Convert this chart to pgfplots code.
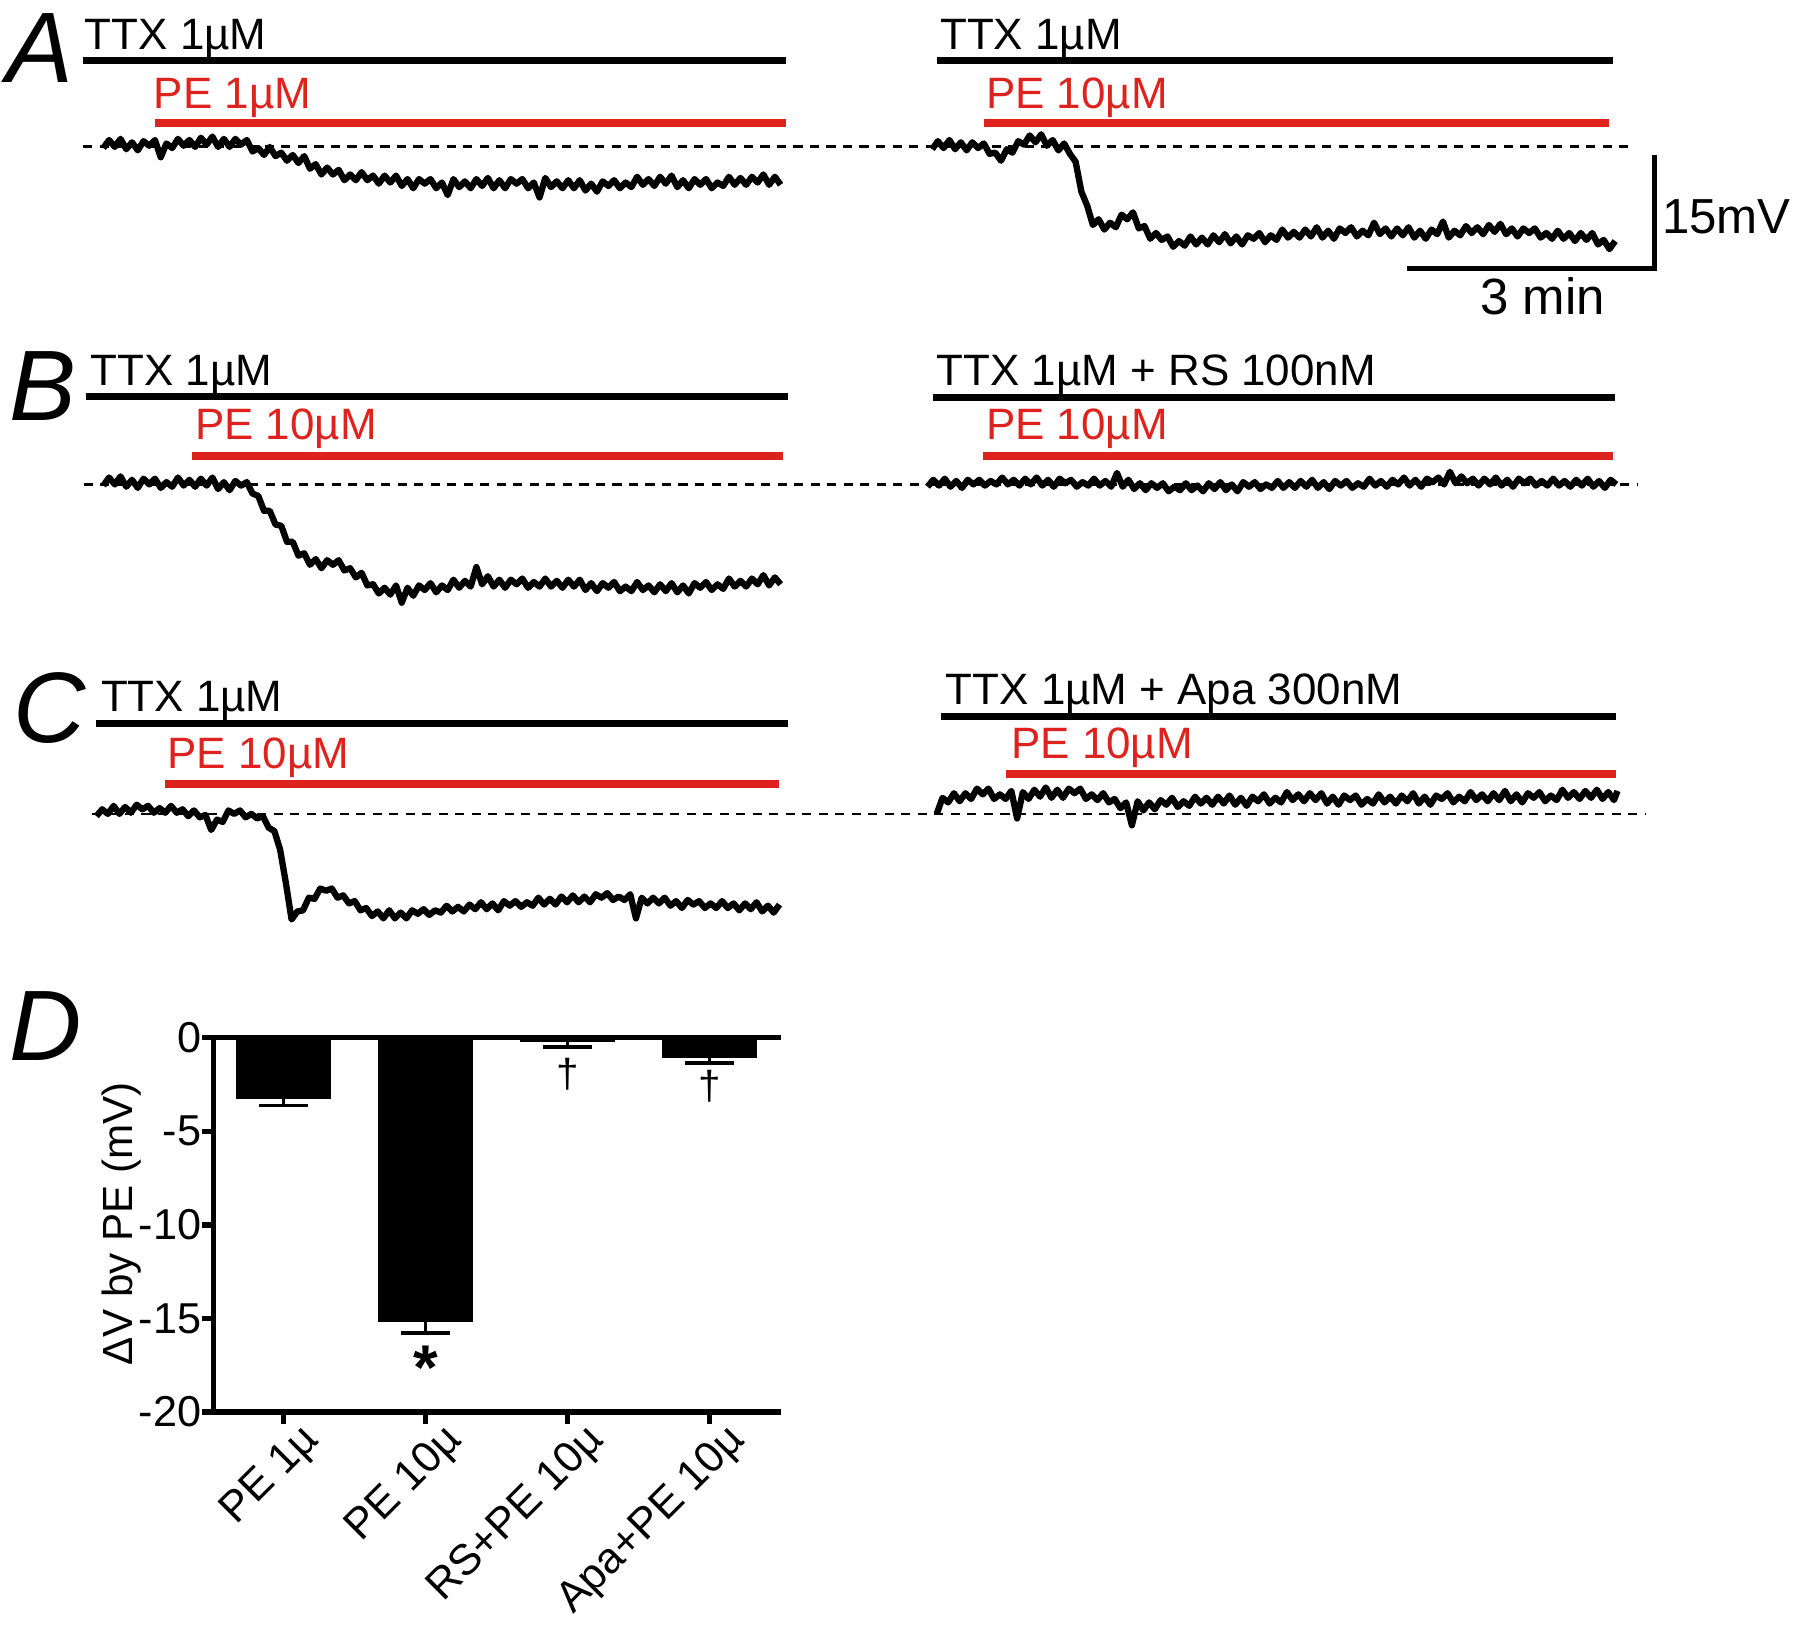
\documentclass[border=0pt]{standalone}
\usepackage{pgfplots}
\pgfplotsset{compat=1.18}
\usepackage{fontspec}
\setmainfont{Liberation Sans}
\definecolor{pered}{RGB}{222,35,30}
\newcommand{\tf}{\fontsize{12.5}{14}\selectfont}
\newcommand{\pl}{\fontsize{28.5}{30}\selectfont\itshape}
\tikzset{lbl/.style={inner sep=0pt, outer sep=0pt}}
\begin{document}
\begin{tikzpicture}
\begin{axis}[name=ov, at={(0,0)}, anchor=south west, scale only axis,
  width=18cm, height=16.2551cm, xmin=0, xmax=1568, ymin=0, ymax=1416,
  y dir=reverse, hide axis, clip=false, no markers]
% drug application bars
\addplot[black, line width=2pt] coordinates {(72.4,52.8) (684.4,52.8)};
\addplot[pered, line width=2.2pt] coordinates {(134.7,106.9) (684.4,106.9)};
\addplot[black, line width=2pt] coordinates {(816.5,53) (1405.5,53)};
\addplot[pered, line width=2.2pt] coordinates {(857.5,107.4) (1402,107.4)};
\addplot[black, line width=2pt] coordinates {(74.7,345.5) (686.7,345.5)};
\addplot[pered, line width=2.2pt] coordinates {(167.6,397) (682,397)};
\addplot[black, line width=2pt] coordinates {(813,346) (1406.5,346)};
\addplot[pered, line width=2.2pt] coordinates {(856.5,397.2) (1405,397.2)};
\addplot[black, line width=2pt] coordinates {(83.6,630) (686.7,630)};
\addplot[pered, line width=2.2pt] coordinates {(143.6,683) (679,683)};
\addplot[black, line width=2pt] coordinates {(820,624.3) (1408,624.3)};
\addplot[pered, line width=2.2pt] coordinates {(876.5,674.5) (1408,674.5)};
% dashed baselines
\addplot[black, line width=0.75pt, dash pattern=on 2.6pt off 2.1pt] coordinates {(72.4,127.5) (1424,127.5)};
\addplot[black, line width=0.75pt, dash pattern=on 2.6pt off 2.1pt] coordinates {(73,422) (1426.5,422)};
\addplot[black, line width=0.75pt, dash pattern=on 2.6pt off 2.1pt] coordinates {(80,709) (1434,709)};
% trace A left
\addplot[black, line width=1.8pt, line join=round] coordinates {
(90,129)(95,122)(100,128)(105,121)(110,130)(115,124)(120,131)(125,123)(130,127)(135,122)(140,137)(145,125)
(150,129)(155,121)(160,127)(165,122)(170,128)(175,120)(180,126)(185,119)(190,128)(195,121)(200,128)(205,121)
(210,126)(215,122)(220,132)(225,129)(230,135)(235,128)(240,136)(245,133)(250,140)(255,135)(260,142)(265,136)
(270,147)(275,143)(280,152)(285,146)(290,152)(295,148)(300,157)(305,152)(310,157)(315,150)(320,157)(325,153)
(330,160)(335,153)(340,159)(345,153)(350,162)(355,156)(360,164)(365,156)(370,160)(375,156)(380,164)(385,159)
(390,170)(395,156)(400,163)(405,158)(410,164)(415,156)(420,162)(425,155)(430,164)(435,157)(440,164)(445,156)
(450,160)(455,156)(460,164)(465,159)(470,172)(475,155)(480,163)(485,158)(490,164)(495,157)(500,164)(505,157)
(510,166)(515,160)(520,167)(525,158)(530,162)(535,157)(540,164)(545,159)(550,163)(555,154)(560,161)(565,156)
(570,162)(575,154)(580,160)(585,153)(590,163)(595,157)(600,164)(605,156)(610,161)(615,156)(620,164)(625,159)
(630,162)(635,154)(640,161)(645,155)(650,161)(655,154)(660,159)(665,152)(670,161)(675,154)(680,161)};
% trace A right
\addplot[black, line width=1.8pt, line join=round] coordinates {
(812,130)(817,123)(822,129)(827,122)(832,130)(837,124)(842,131)(847,124)(852,129)(857,125)(862,134)(867,133)
(872,140)(877,130)(882,133)(887,123)(892,126)(897,118)(902,124)(907,117)(912,127)(917,122)(922,131)(927,125)
(932,134)(937,141)(942,167)(947,179)(952,196)(957,191)(962,200)(967,194)(972,198)(977,187)(982,191)(987,185)
(992,199)(997,197)(1002,208)(1007,203)(1012,209)(1017,206)(1022,215)(1027,210)(1032,214)(1037,206)(1042,213)(1047,207)
(1052,213)(1057,205)(1062,211)(1067,204)(1072,212)(1077,206)(1082,213)(1087,205)(1092,208)(1097,203)(1102,211)(1107,205)
(1112,209)(1117,200)(1122,207)(1127,202)(1132,207)(1137,200)(1142,206)(1147,198)(1152,207)(1157,201)(1162,208)(1167,199)
(1172,203)(1177,198)(1182,206)(1187,201)(1192,205)(1197,194)(1202,204)(1207,199)(1212,206)(1217,199)(1222,205)(1227,198)
(1232,207)(1237,201)(1242,208)(1247,200)(1252,204)(1257,193)(1262,207)(1267,201)(1272,205)(1277,197)(1282,203)(1287,198)
(1292,204)(1297,196)(1302,202)(1307,195)(1312,204)(1317,199)(1322,206)(1327,199)(1332,203)(1337,199)(1342,207)(1347,203)
(1352,208)(1357,201)(1362,208)(1367,203)(1372,210)(1377,203)(1382,209)(1387,203)(1392,213)(1397,209)(1402,217)(1407,210)};
% trace B left
\addplot[black, line width=1.8pt, line join=round] coordinates {
(90,423)(95,416)(100,422)(105,415)(110,424)(115,418)(120,425)(125,417)(130,422)(135,417)(140,425)(145,420)
(150,424)(155,416)(160,423)(165,418)(170,424)(175,417)(180,423)(185,416)(190,426)(195,420)(200,427)(205,419)
(210,423)(215,420)(220,430)(225,432)(230,445)(235,445)(240,457)(245,458)(250,472)(255,472)(260,484)(265,482)
(270,492)(275,487)(280,495)(285,488)(290,492)(295,488)(300,497)(305,495)(310,503)(315,499)(320,510)(325,509)
(330,517)(335,512)(340,518)(345,510)(350,525)(355,512)(360,519)(365,510)(370,514)(375,508)(380,516)(385,510)
(390,514)(395,505)(400,512)(405,506)(410,511)(415,494)(420,509)(425,502)(430,511)(435,505)(440,512)(445,505)
(450,509)(455,504)(460,512)(465,507)(470,511)(475,504)(480,511)(485,506)(490,512)(495,505)(500,511)(505,505)
(510,514)(515,508)(520,515)(525,508)(530,512)(535,507)(540,515)(545,511)(550,515)(555,507)(560,514)(565,510)
(570,516)(575,509)(580,515)(585,508)(590,516)(595,510)(600,517)(605,508)(610,512)(615,507)(620,514)(625,509)
(630,513)(635,504)(640,511)(645,506)(650,511)(655,504)(660,509)(665,501)(670,510)(675,503)(680,509)};
% trace B right
\addplot[black, line width=1.8pt, line join=round] coordinates {
(808,424)(813,418)(818,423)(823,417)(828,424)(833,419)(838,425)(843,418)(848,422)(853,418)(858,423)(863,419)
(868,422)(873,416)(878,422)(883,418)(888,423)(893,417)(898,422)(903,416)(908,423)(913,418)(918,424)(923,417)
(928,421)(933,418)(938,424)(943,420)(948,423)(953,417)(958,423)(963,419)(968,424)(973,412)(978,424)(983,418)
(988,426)(993,421)(998,427)(1003,421)(1008,425)(1013,421)(1018,428)(1023,424)(1028,427)(1033,421)(1038,427)(1043,423)
(1048,428)(1053,421)(1058,426)(1063,420)(1068,427)(1073,422)(1078,428)(1083,420)(1088,424)(1093,420)(1098,426)(1103,422)
(1108,425)(1113,419)(1118,425)(1123,420)(1128,425)(1133,419)(1138,424)(1143,418)(1148,425)(1153,420)(1158,426)(1163,419)
(1168,423)(1173,419)(1178,425)(1183,421)(1188,424)(1193,417)(1198,423)(1203,419)(1208,424)(1213,418)(1218,422)(1223,416)
(1228,423)(1233,418)(1238,424)(1243,417)(1248,420)(1253,416)(1258,422)(1263,411)(1268,421)(1273,415)(1278,421)(1283,417)
(1288,423)(1293,417)(1298,422)(1303,416)(1308,423)(1313,418)(1318,424)(1323,417)(1328,421)(1333,417)(1338,423)(1343,419)
(1348,423)(1353,417)(1358,423)(1363,419)(1368,424)(1373,418)(1378,423)(1383,417)(1388,424)(1393,419)(1398,425)(1403,418)(1408,422)};
% trace C left
\addplot[black, line width=1.8pt, line join=round] coordinates {
(84,711)(89,705)(94,709)(99,702)(104,709)(109,703)(114,708)(119,701)(124,705)(129,702)(134,708)(139,704)
(144,708)(149,702)(154,708)(159,705)(164,711)(169,706)(174,712)(179,710)(184,723)(189,714)(194,716)(199,706)
(204,709)(209,706)(214,712)(219,709)(224,713)(229,711)(234,721)(239,724)(244,740)(249,769)(254,801)(259,794)
(264,793)(269,782)(274,783)(279,774)(284,776)(289,774)(294,782)(299,780)(304,787)(309,785)(314,793)(319,791)
(324,798)(329,794)(334,800)(339,793)(344,800)(349,795)(354,800)(359,793)(364,796)(369,792)(374,797)(379,793)
(384,795)(389,789)(394,794)(399,790)(404,794)(409,788)(414,792)(419,786)(424,792)(429,787)(434,793)(439,785)
(444,789)(449,785)(454,790)(459,786)(464,789)(469,782)(474,788)(479,783)(484,788)(489,781)(494,786)(499,780)
(504,786)(509,781)(514,786)(519,779)(524,782)(529,778)(534,784)(539,781)(544,784)(549,779)(554,800)(559,782)
(564,787)(569,782)(574,787)(579,782)(584,789)(589,785)(594,791)(599,784)(604,788)(609,785)(614,791)(619,787)
(624,791)(629,785)(634,791)(639,787)(644,793)(649,787)(654,792)(659,786)(664,794)(669,789)(674,795)(679,788)};
% trace C right
\addplot[black, line width=1.8pt, line join=round] coordinates {
(816,709)(821,695)(826,699)(831,691)(836,698)(841,691)(846,696)(851,687)(856,692)(861,687)(866,696)(871,692)
(876,696)(881,689)(886,713)(891,690)(896,696)(901,688)(906,694)(911,686)(916,695)(921,688)(926,695)(931,687)
(936,691)(941,687)(946,696)(951,692)(956,697)(961,691)(966,699)(971,696)(976,704)(981,699)(986,719)(991,698)
(996,706)(1001,699)(1006,705)(1011,697)(1016,701)(1021,695)(1026,703)(1031,698)(1036,702)(1041,694)(1046,700)(1051,695)
(1056,701)(1061,694)(1066,700)(1071,693)(1076,701)(1081,695)(1086,702)(1091,694)(1096,698)(1101,692)(1106,700)(1111,695)
(1116,699)(1121,690)(1126,697)(1131,692)(1136,698)(1141,691)(1146,697)(1151,691)(1156,700)(1161,694)(1166,701)(1171,693)
(1176,697)(1181,693)(1186,701)(1191,696)(1196,700)(1201,692)(1206,699)(1211,694)(1216,700)(1221,693)(1226,698)(1231,691)
(1236,700)(1241,694)(1246,701)(1251,693)(1256,696)(1261,691)(1266,699)(1271,694)(1276,698)(1281,690)(1286,697)(1291,692)
(1296,698)(1301,691)(1306,697)(1311,689)(1316,698)(1321,692)(1326,699)(1331,691)(1336,695)(1341,690)(1346,698)(1351,693)
(1356,697)(1361,688)(1366,695)(1371,690)(1376,696)(1381,689)(1386,695)(1391,688)(1396,696)(1401,690)(1406,697)(1409,689)};
% scale bar
\addplot[black, line width=1.5pt] coordinates {(1225.5,234) (1441.5,234) (1441.5,135)};
\node[lbl, anchor=base west, font=\fontsize{14}{16}\selectfont] at (axis cs:1448,203) {15mV};
\node[lbl, anchor=base east, font=\fontsize{14.5}{16}\selectfont] at (axis cs:1398,274) {3 min};
% panel letters
\node[lbl, anchor=base west, font=\pl] at (axis cs:6,72) {A};
\node[lbl, anchor=base west, font=\pl] at (axis cs:8,366) {B};
\node[lbl, anchor=base west, font=\pl] at (axis cs:12,647) {C};
\node[lbl, anchor=base west, font=\pl] at (axis cs:8,924) {D};
% drug labels
\node[lbl, anchor=base west, font=\tf] at (axis cs:74,43.5) {TTX 1µM};
\node[lbl, anchor=base west, font=\tf, text=pered] at (axis cs:134,94.4) {PE 1µM};
\node[lbl, anchor=base west, font=\tf] at (axis cs:819,43) {TTX 1µM};
\node[lbl, anchor=base west, font=\tf, text=pered] at (axis cs:859,94.4) {PE 10µM};
\node[lbl, anchor=base west, font=\tf] at (axis cs:79,335.4) {TTX 1µM};
\node[lbl, anchor=base west, font=\tf, text=pered] at (axis cs:170,383.3) {PE 10µM};
\node[lbl, anchor=base west, font=\tf] at (axis cs:816,335.4) {TTX 1µM + RS 100nM};
\node[lbl, anchor=base west, font=\tf, text=pered] at (axis cs:859,383.3) {PE 10µM};
\node[lbl, anchor=base west, font=\tf] at (axis cs:88,619.9) {TTX 1µM};
\node[lbl, anchor=base west, font=\tf, text=pered] at (axis cs:146,669.3) {PE 10µM};
\node[lbl, anchor=base west, font=\tf] at (axis cs:824,614.1) {TTX 1µM + Apa 300nM};
\node[lbl, anchor=base west, font=\tf, text=pered] at (axis cs:881,660.6) {PE 10µM};
\coordinate (Dsw) at (axis cs:186,1230);
\end{axis}

\begin{axis}[at={(Dsw)}, anchor=south west, scale only axis,
  width=5.671cm, height=3.742cm,
  xmin=0.507, xmax=4.501, ymin=-20, ymax=0,
  axis lines*=left, axis line style={line width=1.5pt, black},
  xtick={1,2,3,4}, xticklabels={PE 1µ,PE 10µ,RS+PE 10µ,Apa+PE 10µ},
  ytick={-20,-15,-10,-5,0}, yticklabels={-20,-15,-10,-5,0},
  tick align=outside, major tick length=3.3pt,
  tick style={line width=1.5pt, black},
  ticklabel style={font=\fontsize{12.3}{14}\selectfont},
  yticklabel style={anchor=east, inner sep=0pt},
  xticklabel style={xshift=4.5pt, yshift=1.2pt, rotate=45, anchor=north east, inner sep=0pt},
  ylabel={ΔV by PE (mV)},
  ylabel style={font=\fontsize{12}{14}\selectfont, inner sep=0pt, at={(axis description cs:-0.143,0.503)}, anchor=base},
  clip=false, no markers]
\addplot[black, line width=1.5pt] coordinates {(0.507,0) (4.501,0)};
\addplot[ybar, bar width=0.665, fill=black, draw=black,
  error bars/.cd, y dir=minus, y explicit,
  error bar style={line width=1.1pt, black},
  error mark options={rotate=90, line width=1.1pt, mark size=7.1pt, black}]
coordinates {(1,-3.24) +- (0,0.38) (2,-15.15) +- (0,0.63) (3,-0.2) +- (0,0.3) (4,-1.07) +- (0,0.28)};
\node[inner sep=0pt, anchor=base, font=\fontsize{18}{18}\selectfont\bfseries] at (axis cs:2,-18.8) {*};
\node[inner sep=0pt, font=\fontsize{11.5}{12}\selectfont] at (axis cs:3,-1.96) {†};
\node[inner sep=0pt, font=\fontsize{11.5}{12}\selectfont] at (axis cs:4,-2.58) {†};
\end{axis}
\pgfresetboundingbox
\path[use as bounding box] (ov.south west) rectangle (ov.north east);
\end{tikzpicture}
\end{document}
